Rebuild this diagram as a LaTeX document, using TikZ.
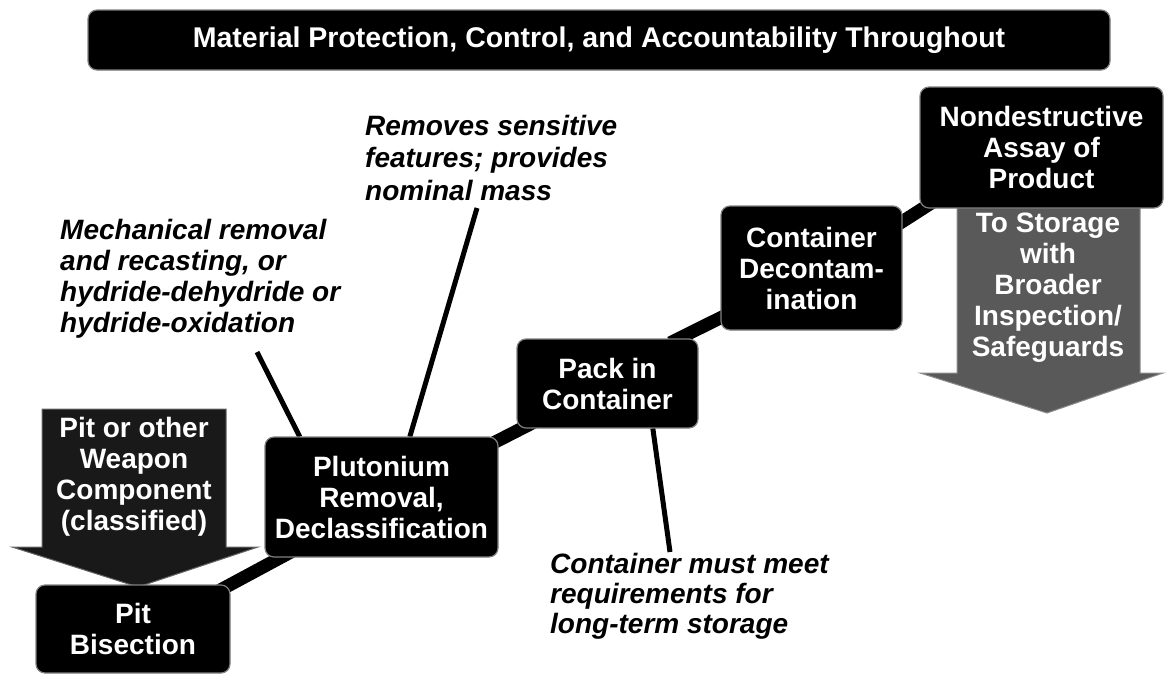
\documentclass[tikz,border=0pt]{standalone}
\usepackage{fontspec}
\setmainfont{Liberation Sans}
\usetikzlibrary{calc}
\begin{document}
\begin{tikzpicture}[x=1pt,y=-1pt,
  bx/.style={draw=black!50, line width=1.2pt, fill=black, rounded corners=9pt,
    text=white, font=\fontsize{28}{31}\selectfont\bfseries, align=center, inner sep=0pt},
  lbl/.style={font=\fontsize{28}{31}\selectfont\bfseries\itshape, align=left,
    anchor=north west, inner sep=0pt},
  arrtxt/.style={text=white, font=\fontsize{28}{31}\selectfont\bfseries, align=center, inner sep=0pt},
  link/.style={line width=13pt},
  lead/.style={line width=5pt},
  pitarrow/.style={fill=black!90, draw=black!60, line width=1pt},
  storarrow/.style={fill=black!65, draw=black!45, line width=1pt}
]
\useasboundingbox (0,0) rectangle (1167,675);

% big arrows
\fill[pitarrow] (42,409) -- (226,409) -- (226,547) -- (258,547) -- (138,587) -- (12,547) -- (42,547) -- cycle;
\node[arrtxt] (pitarr) at (134,477) {Pit or other\\Weapon\\Component\\(classified)};
\fill[storarrow] (957,200) -- (1140,200) -- (1140,373) -- (1163,373) -- (1047,413) -- (920,373) -- (957,373) -- cycle;
\node[arrtxt] (storarr) at (1048,288) {To Storage\\with\\Broader\\Inspection/\\Safeguards};

% title banner
\node[bx, minimum width=1022pt, minimum height=60pt, font=\fontsize{28.5}{31}\selectfont\bfseries] (title) at (599,40)
  {Material Protection, Control, and Accountability Throughout};

\path (133,629) coordinate (pitc) (381.5,497) coordinate (pluc) (607.5,383.5) coordinate (packc)
      (811.5,268) coordinate (deconc) (1041.5,147.5) coordinate (ndac);

% placeholders giving the box anchors
\node[minimum width=194pt, minimum height=88pt, inner sep=0pt] (pit) at (pitc) {};
\node[minimum width=233pt, minimum height=120pt, inner sep=0pt] (plu) at (pluc) {};
\node[minimum width=181pt, minimum height=89pt, inner sep=0pt] (pack) at (packc) {};
\node[minimum width=181pt, minimum height=124pt, inner sep=0pt] (decon) at (deconc) {};
\node[minimum width=243pt, minimum height=121pt, inner sep=0pt] (nda) at (ndac) {};

% thick connectors
\draw[link] ($(pit.north east)+(-30,16)$) -- ($(plu.south west)+(35,-10)$);
\draw[link] ($(plu.north east)+(-28,18)$) -- ($(pack.south west)+(23,-9)$);
\draw[link] ($(pack.north east)+(-28,4)$) -- ($(decon.south west)+(29,-27)$);
\draw[link] ($(decon.north east)+(-22,30)$) -- ($(nda.south west)+(30,-17)$);

% label leaders
\coordinate (m1) at (257,352);
\coordinate (r1) at (477,208);
\coordinate (c1) at (670,552);
\draw[lead] (m1) -- ($(plu.north west)+(35,0)$);
\draw[lead] (r1) -- ($(plu.north west)+(145,0)$);
\draw[lead] ($(pack.south west)+(136,0)$) -- (c1);

% visible boxes
\node[bx, minimum width=194pt, minimum height=88pt] at (pitc) {Pit\\Bisection};
\node[bx, minimum width=233pt, minimum height=120pt] at (pluc) {Plutonium\\Removal,\\Declassification};
\node[bx, minimum width=181pt, minimum height=89pt] at (packc) {Pack in\\Container};
\node[bx, minimum width=181pt, minimum height=124pt] at (deconc) {Container\\Decontam-\\ination};
\node[bx, minimum width=243pt, minimum height=121pt] at (ndac) {Nondestructive\\Assay of\\Product};

% italic labels
\node[lbl] (mech) at (60,219) {Mechanical removal\\and recasting, or\\hydride-dehydride or\\hydride-oxidation};
\node[lbl, font=\fontsize{28}{32.5}\selectfont\bfseries\itshape] (rem) at (365,115) {Removes sensitive\\features; provides\\nominal mass};
\node[lbl, font=\fontsize{28}{30}\selectfont\bfseries\itshape] (cont) at (550,553) {Container must meet\\requirements for\\long-term storage};
\end{tikzpicture}
\end{document}
